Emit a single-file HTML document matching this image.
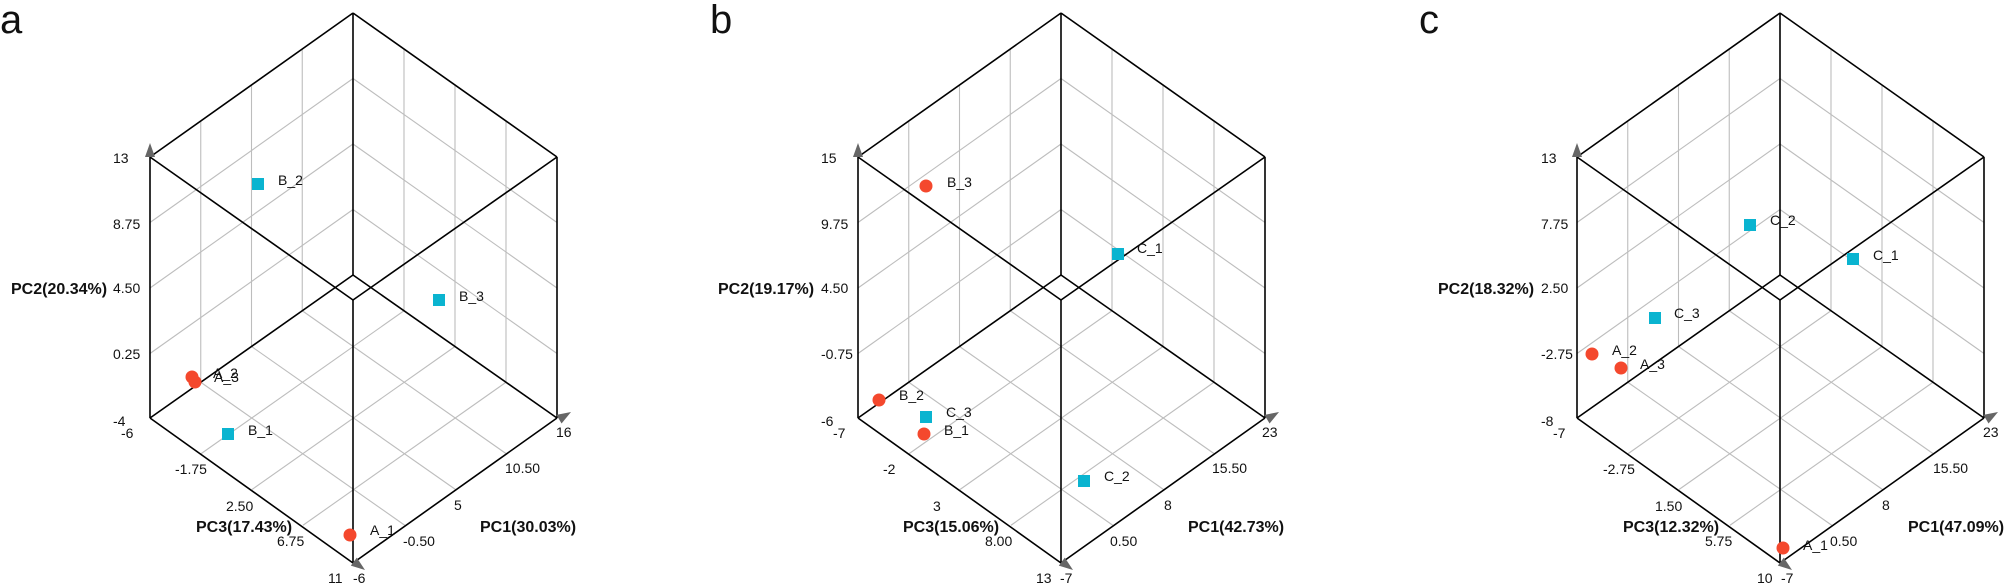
<!DOCTYPE html>
<html><head><meta charset="utf-8">
<style>
html,body{margin:0;padding:0;background:#fff;}
svg{display:block;}
text{font-family:"Liberation Sans",Arial,sans-serif;fill:#111;}
.t{font-size:14px;}
.b{font-size:16px;font-weight:bold;}
.L{font-size:40px;}
</style></head>
<body>
<svg id="s" width="2007" height="583" viewBox="0 0 2007 583" xmlns="http://www.w3.org/2000/svg">
<g id="geo"></g>
<!-- panel a -->
<text class="L" x="0" y="33">a</text>
<text class="b" x="11" y="294">PC2(20.34%)</text>
<text class="t" x="113" y="163">13</text>
<text class="t" x="113" y="229">8.75</text>
<text class="t" x="113" y="293">4.50</text>
<text class="t" x="113" y="359">0.25</text>
<text class="t" x="113" y="426">-4</text>
<text class="t" x="121" y="438">-6</text>
<text class="t" x="175" y="474">-1.75</text>
<text class="t" x="226" y="511">2.50</text>
<text class="b" x="196" y="532">PC3(17.43%)</text>
<text class="t" x="277" y="546">6.75</text>
<text class="t" x="328" y="583">11</text>
<text class="t" x="353" y="583">-6</text>
<text class="t" x="403" y="546">-0.50</text>
<text class="t" x="454" y="510">5</text>
<text class="t" x="505" y="473">10.50</text>
<text class="t" x="556" y="437">16</text>
<text class="b" x="480" y="532">PC1(30.03%)</text>
<text class="t" x="278" y="185">B_2</text>
<text class="t" x="459" y="301">B_3</text>
<text class="t" x="213" y="378">A_2</text>
<text class="t" x="214" y="382">A_3</text>
<text class="t" x="248" y="435">B_1</text>
<text class="t" x="370" y="535">A_1</text>
<!-- panel b -->
<text class="L" x="710" y="33">b</text>
<text class="b" x="718" y="294">PC2(19.17%)</text>
<text class="t" x="821" y="163">15</text>
<text class="t" x="821" y="229">9.75</text>
<text class="t" x="821" y="293">4.50</text>
<text class="t" x="821" y="359">-0.75</text>
<text class="t" x="821" y="426">-6</text>
<text class="t" x="833" y="438">-7</text>
<text class="t" x="883" y="474">-2</text>
<text class="t" x="933" y="511">3</text>
<text class="b" x="903" y="532">PC3(15.06%)</text>
<text class="t" x="985" y="546">8.00</text>
<text class="t" x="1036" y="583">13</text>
<text class="t" x="1060" y="583">-7</text>
<text class="t" x="1110" y="546">0.50</text>
<text class="t" x="1164" y="510">8</text>
<text class="t" x="1212" y="473">15.50</text>
<text class="t" x="1262" y="437">23</text>
<text class="b" x="1188" y="532">PC1(42.73%)</text>
<text class="t" x="947" y="187">B_3</text>
<text class="t" x="1137" y="253">C_1</text>
<text class="t" x="899" y="400">B_2</text>
<text class="t" x="946" y="417">C_3</text>
<text class="t" x="944" y="435">B_1</text>
<text class="t" x="1104" y="481">C_2</text>
<!-- panel c -->
<text class="L" x="1419" y="33">c</text>
<text class="b" x="1438" y="294">PC2(18.32%)</text>
<text class="t" x="1541" y="163">13</text>
<text class="t" x="1541" y="229">7.75</text>
<text class="t" x="1541" y="293">2.50</text>
<text class="t" x="1541" y="359">-2.75</text>
<text class="t" x="1541" y="426">-8</text>
<text class="t" x="1553" y="438">-7</text>
<text class="t" x="1603" y="474">-2.75</text>
<text class="t" x="1655" y="511">1.50</text>
<text class="b" x="1623" y="532">PC3(12.32%)</text>
<text class="t" x="1705" y="546">5.75</text>
<text class="t" x="1757" y="583">10</text>
<text class="t" x="1781" y="583">-7</text>
<text class="t" x="1830" y="546">0.50</text>
<text class="t" x="1882" y="510">8</text>
<text class="t" x="1933" y="473">15.50</text>
<text class="t" x="1983" y="437">23</text>
<text class="b" x="1908" y="532">PC1(47.09%)</text>
<text class="t" x="1770" y="225">C_2</text>
<text class="t" x="1873" y="260">C_1</text>
<text class="t" x="1674" y="318">C_3</text>
<text class="t" x="1612" y="355">A_2</text>
<text class="t" x="1640" y="369">A_3</text>
<text class="t" x="1803" y="550">A_1</text>
</svg>
<script>
(function(){
var NS="http://www.w3.org/2000/svg",g=document.getElementById("geo");
function el(n,a){var e=document.createElementNS(NS,n);for(var k in a)e.setAttribute(k,a[k]);g.appendChild(e);return e;}
function ln(p,q,c,w){el("line",{x1:p[0],y1:p[1],x2:q[0],y2:q[1],stroke:c,"stroke-width":w});}
function add(p,q,s){return [p[0]+q[0]*s,p[1]+q[1]*s];}
function sub(p,q){return [p[0]-q[0],p[1]-q[1]];}
function plane(O,A,Bv){ // O origin, A,B corners
  var u=sub(A,O),v=sub(Bv,O);
  for(var i=1;i<4;i++){var f=i/4;
    ln(add(O,u,f),add(add(O,u,f),v,1),"#bdbdbd",1.1);
    ln(add(O,v,f),add(add(O,v,f),u,1),"#bdbdbd",1.1);}
}
function arrow(tip,dir){var L=Math.hypot(dir[0],dir[1]);var d=[dir[0]/L,dir[1]/L],n=[-d[1],d[0]];
  var b=[tip[0]-d[0]*14,tip[1]-d[1]*14];
  el("polygon",{points:[tip[0]+","+tip[1],(b[0]+n[0]*5)+","+(b[1]+n[1]*5),(b[0]-n[0]*5)+","+(b[1]-n[1]*5)].join(" "),fill:"#666"});}
function cube(dx){
  var T=[353+dx,13],LT=[150+dx,157],RT=[557+dx,157],C2=[353+dx,300],C1=[353+dx,275],LB=[150+dx,418],RB=[557+dx,418],B=[353+dx,563];
  plane(T,LT,C1); plane(T,RT,C1); plane(C1,LB,RB);
  var k="#000",w=1.6;
  [[T,LT],[T,RT],[LT,C2],[RT,C2],[C1,LB],[C1,RB],[LB,B],[RB,B],[LT,LB],[RT,RB],[T,C1],[C2,B]].forEach(function(e){ln(e[0],e[1],k,w);});
  arrow([150+dx,143],[0,-1]);
  arrow([563+dx+8,414-2],[1,-0.6]);
  arrow([363+dx+2,570],[1,0.75]);
}
cube(0);cube(708);cube(1427);
function circ(x,y){el("ellipse",{cx:x,cy:y,rx:6.5,ry:6.5,fill:"#f4482d"});}
function sq(x,y){el("rect",{x:x-6,y:y-6,width:12,height:12,fill:"#0ab4d0"});}
sq(258,184);sq(439,300);circ(192,377);circ(195,382);sq(228,434);circ(350,535);
circ(926,186);sq(1118,254);circ(879,400);sq(926,417);circ(924,434);sq(1084,481);
sq(1750,225);sq(1853,259);sq(1655,318);circ(1592,354);circ(1621,368);circ(1783,548);
})();
</script>
</body></html>
